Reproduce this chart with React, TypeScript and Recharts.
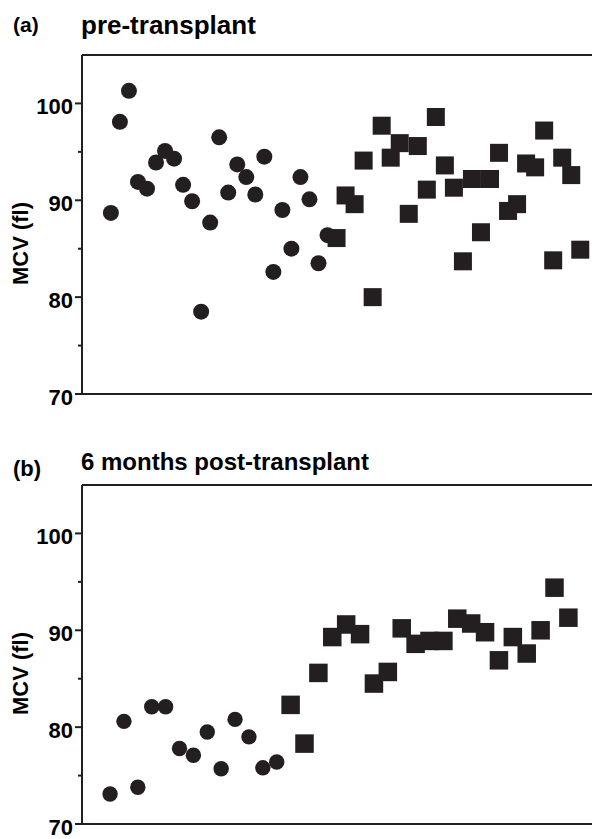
import React from 'react';
import { ScatterChart, Scatter, XAxis, YAxis, ReferenceLine } from 'recharts';

const INK = '#231f20';
const FONT = '"Liberation Sans", Arial, Helvetica, sans-serif';

// (a) pre-transplant: circles then squares, left to right
const preCircles = [88.7, 98.1, 101.3, 91.9, 91.2, 93.9, 95.1, 94.3, 91.6, 89.9, 78.5, 87.7, 96.5, 90.8, 93.7, 92.4, 90.6, 94.5, 82.6, 89.0, 85.0, 92.4, 90.1, 83.5, 86.4];
const preSquares = [86.1, 90.5, 89.6, 94.1, 80.0, 97.7, 94.4, 95.9, 88.6, 95.6, 91.1, 98.6, 93.6, 91.3, 83.7, 92.2, 86.7, 92.2, 94.9, 88.9, 89.6, 93.8, 93.4, 97.2, 83.8, 94.4, 92.6, 84.9];

// (b) 6 months post-transplant
const postCircles = [73.1, 80.6, 73.8, 82.1, 82.1, 77.8, 77.1, 79.5, 75.7, 80.8, 79.0, 75.8, 76.4];
const postSquares = [82.3, 78.3, 85.6, 89.3, 90.6, 89.6, 84.5, 85.7, 90.2, 88.6, 88.9, 88.9, 91.2, 90.7, 89.8, 86.9, 89.3, 87.6, 90.0, 94.4, 91.3];

const yTicks = [70, 75, 80, 85, 90, 95, 100];

const YTick = (props: any) => {
  const { x, y, payload } = props;
  const major = payload.value % 10 === 0;
  return (
    <g>
      <line x1={x - (major ? 7 : 4)} x2={x} y1={y} y2={y} stroke={INK} strokeWidth={2} />
      {major && (
        <text
          x={x - 9}
          y={y + 10.5}
          textAnchor="end"
          fill="#000"
          style={{ fontFamily: FONT, fontSize: 22, fontWeight: 'bold' }}
        >
          {payload.value}
        </text>
      )}
    </g>
  );
};

const YLabel = (props: any) => {
  const vb = props.viewBox || { y: 55, height: 339 };
  const cx = 20;
  const cy = vb.y + vb.height / 2 + 19;
  return (
    <text
      x={cx}
      y={cy}
      transform={`rotate(-90, ${cx}, ${cy})`}
      textAnchor="middle"
      dominantBaseline="central"
      fill="#000"
      style={{ fontFamily: FONT, fontSize: 22, fontWeight: 'bold' }}
    >
      MCV (fl)
    </text>
  );
};

interface PanelProps {
  tag: string;
  title: string;
  circles: number[];
  squares: number[];
  xDomain: [number, number];
  r: number;
  side: number;
  tagSize: number;
  tagTop: number;
  titleSize: number;
  titleTop: number;
}

const Panel: React.FC<PanelProps> = ({ tag, title, circles, squares, xDomain, r, side, tagSize, tagTop, titleSize, titleTop }) => {
  const circleData = circles.map((v, i) => ({ x: i + 1, y: v }));
  const squareData = squares.map((v, i) => ({ x: circles.length + i + 1, y: v }));

  return (
    <div style={{ position: 'relative', width: 592, height: 410 }}>
      <div style={{ position: 'absolute', left: 13, top: tagTop, fontFamily: FONT, fontWeight: 'bold', fontSize: tagSize, lineHeight: `${tagSize}px`, color: '#000' }}>
        {tag}
      </div>
      <div style={{ position: 'absolute', left: 81, top: titleTop, fontFamily: FONT, fontWeight: 'bold', fontSize: titleSize, lineHeight: `${titleSize}px`, color: '#000', whiteSpace: 'nowrap' }}>
        {title}
      </div>
      <ScatterChart width={592} height={410} margin={{ top: 55, right: 0, bottom: 16, left: 0 }}>
        <XAxis type="number" dataKey="x" domain={xDomain} hide allowDataOverflow />
        <YAxis
          type="number"
          dataKey="y"
          domain={[70, 105]}
          ticks={yTicks}
          width={82}
          tickSize={0}
          tickMargin={0}
          tickLine={false}
          tick={<YTick />}
          axisLine={{ stroke: INK, strokeWidth: 2 }}
          allowDataOverflow
          label={<YLabel />}
        />
        <ReferenceLine y={105} stroke={INK} strokeWidth={2} />
        <ReferenceLine y={70} stroke={INK} strokeWidth={2} />
        <Scatter
          data={circleData}
          fill={INK}
          isAnimationActive={false}
          shape={(p: any) => <circle cx={p.cx} cy={p.cy} r={r} fill={INK} />}
        />
        <Scatter
          data={squareData}
          fill={INK}
          isAnimationActive={false}
          shape={(p: any) => <rect x={p.cx - side / 2} y={p.cy - side / 2} width={side} height={side} fill={INK} />}
        />
      </ScatterChart>
    </div>
  );
};

const App: React.FC = () => {
  return (
    <div style={{ position: 'absolute', left: 0, top: 0, width: 592, height: 839, background: '#fff' }}>
      <Panel
        tag="(a)"
        title="pre-transplant"
        circles={preCircles}
        squares={preSquares}
        xDomain={[-2.2, 54.3]}
        r={8}
        side={18}
        tagSize={21}
        tagTop={14}
        titleSize={26}
        titleTop={12}
      />
      <div style={{ height: 20 }} />
      <Panel
        tag="(b)"
        title="6 months post-transplant"
        circles={postCircles}
        squares={postSquares}
        xDomain={[-1.02, 35.7]}
        r={7.7}
        side={18.5}
        tagSize={22}
        tagTop={28}
        titleSize={24}
        titleTop={20}
      />
    </div>
  );
};

export default App;
